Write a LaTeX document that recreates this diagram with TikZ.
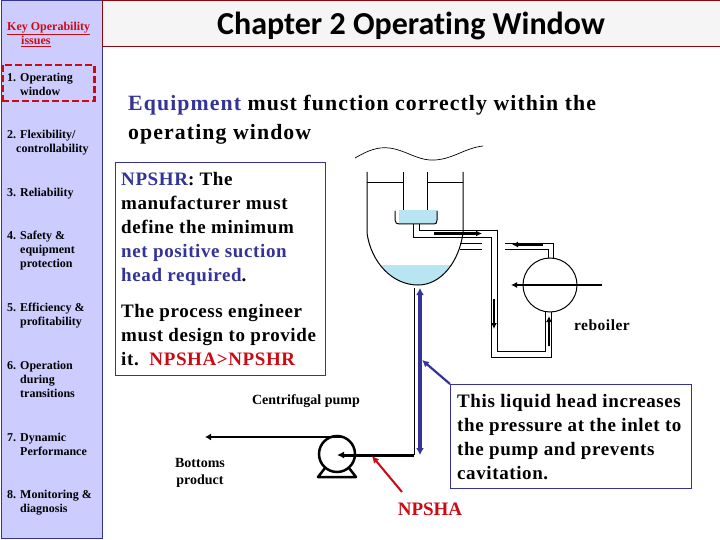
\documentclass[tikz,border=0pt]{standalone}
\usepackage{fontspec}
\setmainfont{Liberation Serif}
\newfontfamily\titlefont[Ligatures=NoCommon,Contextuals=NoAlternate]{Carlito}
\newfontfamily\wideserif[LetterSpace=3.2]{Liberation Serif}
\newfontfamily\headserif[LetterSpace=5]{Liberation Serif}
\definecolor{navy}{HTML}{333399}
\definecolor{lav}{HTML}{CCCCFF}
\definecolor{redkey}{HTML}{CC0A14}
\definecolor{liquid}{HTML}{B9E5F3}
\usetikzlibrary{arrows.meta}
\begin{document}
\begin{tikzpicture}
[x=1pt,y=-1pt,
side/.style={anchor=north west,inner sep=0pt,align=left,font=\fontsize{12}{14}\selectfont\bfseries},
body/.style={anchor=north west,inner sep=0pt,align=left,font=\fontsize{19}{24}\selectfont\wideserif\bfseries},
plain/.style={anchor=center,inner sep=0pt,align=center},
pipe/.style={draw=black,line width=1pt},
flow/.style={-{Latex[length=6pt,width=6pt]},line width=2.2pt},
bluearrow/.style={draw=navy,line width=3.5pt}]
\useasboundingbox (0,0) rectangle (720,540);
\fill[white] (0,0) rectangle (720,540);
% sidebar and title
\node[draw=navy,fill=lav,line width=1pt,minimum width=101pt,minimum height=537pt,inner sep=0pt,anchor=north west] (sidebar) at (1,0.5) {};
\node[draw=redkey!70!black,fill=gray!8,line width=0.7pt,minimum width=619pt,minimum height=46pt,inner sep=0pt,anchor=north west] (titlebar) at (102,0.5) {};
\node[font=\fontsize{32}{36}\selectfont\titlefont\bfseries] (title) at (411,26) {Chapter 2 Operating Window};
\node[draw=redkey,dash pattern=on 7pt off 3pt,line width=2.5pt,minimum width=92pt,minimum height=36pt,inner sep=0pt,anchor=north west] (current) at (1,64) {};
\node[side,text=redkey] (key) at (7,22) {\underline{Key Operability}\\\hspace*{14pt}\underline{issues}};
\node[side] (item1) at (7,73) {1. Operating\\\hspace*{13pt}window};
\node[side] (item2) at (7,130) {2. Flexibility/\\\hspace*{9pt}controllability};
\node[side] (item3) at (7,188) {3. Reliability};
\node[side] (item4) at (7,231) {4. Safety \&\\\hspace*{13pt}equipment\\\hspace*{13pt}protection};
\node[side] (item5) at (7,303) {5. Efficiency \&\\\hspace*{13pt}profitability};
\node[side] (item6) at (7,361) {6. Operation\\\hspace*{13pt}during\\\hspace*{13pt}transitions};
\node[side] (item7) at (7,433) {7. Dynamic\\\hspace*{13pt}Performance};
\node[side] (item8) at (7,490) {8. Monitoring \&\\\hspace*{13pt}diagnosis};
% text boxes
\node[body,font=\fontsize{21.8}{29}\selectfont\headserif\bfseries] (head) at (128,95) {\textcolor{navy}{Equipment} must function correctly within the\\operating window};
\node[draw=navy,line width=0.8pt,minimum width=210pt,minimum height=212pt,inner sep=0pt,anchor=north west] (npshbox) at (114.5,162.5) {};
\node[body] (npshr) at (121,172) {\textcolor{navy}{NPSHR}: The\\manufacturer must\\define the minimum\\\textcolor{navy}{net positive suction}\\\textcolor{navy}{head required}.};
\node[body] (engineer) at (121,304) {The process engineer\\must design to provide\\it.\ \ \textcolor{redkey}{NPSHA>NPSHR}};
\node[draw=navy,line width=0.8pt,minimum width=241pt,minimum height=104pt,inner sep=0pt,anchor=north west] (headbox) at (450,384) {};
\node[body] (headtext) at (457,394) {This liquid head increases\\the pressure at the inlet to\\the pump and prevents\\cavitation.};
\node[plain,font=\fontsize{15.5}{18}\selectfont\wideserif\bfseries] (reboiler) at (602,325) {reboiler};
\node[plain,font=\fontsize{14}{17}\selectfont\bfseries] (pumplabel) at (306,401) {Centrifugal pump};
\node[plain,font=\fontsize{14}{17}\selectfont\bfseries] (bottoms) at (200,473) {Bottoms\\product};
\node[plain,font=\fontsize{19}{24}\selectfont\bfseries,text=redkey] (npsha) at (430,509) {NPSHA};
% column
\draw[line width=0.7pt] (355,158) .. controls (372,148) and (382,146) .. (395,149) .. controls (410,153) and (420,161) .. (435,160) .. controls (453,159) and (465,148) .. (483,146);
\fill[liquid] (381,265) -- (451,265) .. controls (443,277) and (432,285) .. (418,285) .. controls (402,285) and (389,277) .. (381,265) -- cycle;
\draw[pipe] (367,172) -- (367,233) .. controls (371,262) and (392,285) .. (418,285) .. controls (441,285) and (459,262) .. (463,233) -- (463,172);
\draw[pipe] (367,183) -- (403,183) (403,172) -- (403,212);
\draw[pipe] (463,183) -- (427,183) (427,172) -- (427,212);
\fill[liquid] (399,210) rectangle (437,223);
\draw[pipe] (395,211) -- (395,220) .. controls (395,223) and (397,224) .. (399,224) -- (434,224) .. controls (436,224) and (437,223) .. (437,220) -- (437,211);
% circulation pipes
\draw[pipe] (419,224) -- (419,231) -- (497,231) -- (497,351) -- (545,351) -- (545,309);
\draw[pipe] (413,224) -- (413,237) -- (491,237) -- (491,357) -- (551,357) -- (551,309);
\draw[pipe] (460,243) -- (482,243) (460,249) -- (482,249);
\draw[pipe] (505,243) -- (553,243) -- (553,261) (505,249) -- (548,249) -- (548,261);
\node[draw=black,circle,line width=1pt,fill=white,minimum size=54pt,inner sep=0pt] (reb) at (550,285) {};
\draw[flow] (434,233.5) -- (482,233.5);
\draw[flow] (543,244.5) -- (512,244.5);
\draw[flow] (494,299) -- (494,329);
\draw[flow] (549,346) -- (549,316);
\draw[flow] (602,285) -- (511,285);
% pump
\node[draw=black,circle,line width=2.5pt,minimum size=36pt,inner sep=0pt] (pump) at (337,454) {};
\coordinate (inlet) at (414,455);
\coordinate (outlet) at (342,437);
\coordinate (product) at (205,437);
\coordinate (pumpeye) at (337,455);
\draw[pipe] (414,288) -- (inlet);
\draw[-{Latex[length=7pt,width=7pt]},line width=3pt] (inlet) -- (pumpeye);
\draw[-{Latex[length=6pt,width=7pt]},line width=2.2pt] (outlet) -- (product);
\draw[line width=2.5pt,line join=round] (325,468) -- (318,477) -- (356,477) -- (349,468);
% head arrows
\coordinate (headtop) at (420,288);
\coordinate (headbottom) at (420,455);
\coordinate (headmark) at (422,360);
\coordinate (suction) at (372,456);
\coordinate (npshafoot) at (402,492);
\draw[bluearrow,{Latex[length=7pt,width=8pt]}-{Latex[length=7pt,width=8pt]}] (headtop) -- (headbottom);
\draw[draw=navy,line width=2.2pt,-{Latex[length=7pt,width=7pt]}] (headbox.north west) -- (headmark);
\draw[draw=redkey,line width=2pt,-{Latex[length=7pt,width=7pt]}] (npshafoot) -- (suction);
\end{tikzpicture}
\end{document}
